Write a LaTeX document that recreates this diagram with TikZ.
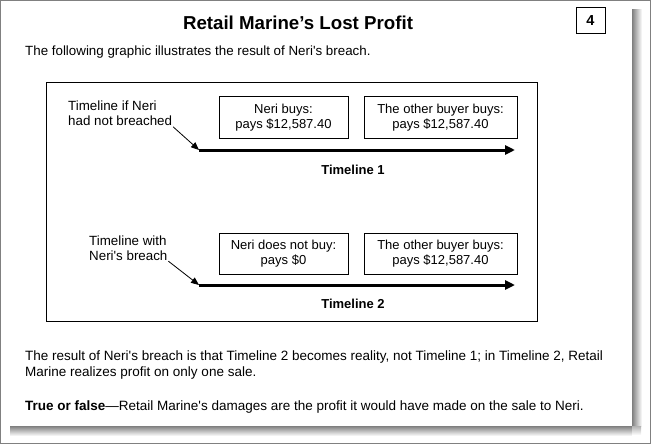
\documentclass[tikz,border=0pt]{standalone}
\usepackage{fontspec}
\setmainfont{Liberation Sans}[Ligatures=TeXOff]
\usetikzlibrary{arrows.meta}
\begin{document}
\begin{tikzpicture}[x=1pt,y=-1pt,
  txt/.style={font=\fontsize{13.35}{15}\selectfont, inner sep=0pt},
  ptxt/.style={font=\fontsize{13.5}{16}\selectfont, inner sep=0pt},
  btxt/.style={font=\fontsize{13}{15}\selectfont\bfseries, inner sep=0pt},
  box/.style={draw, line width=1pt, align=center, inner sep=0pt,
    font=\fontsize{13}{15}\selectfont, minimum height=41pt},
  tline/.style={line width=3pt, -{Triangle[length=10pt,width=9pt]}},
  leader/.style={line width=0.8pt, -{Triangle[length=8pt,width=6.5pt]}, shorten <=1pt}]
\useasboundingbox (0,0) rectangle (651,444);
% shadow of the page
\shade[left color=black!50, right color=white] (632,10) rectangle (642,426);
\shade[top color=black!50, bottom color=white] (10,426) rectangle (632,436);
\shade[top color=black!30, bottom color=white] (632,426) rectangle (641,435);
% page
\fill[white] (0,0) rectangle (632,426);
% outer border
\draw[black!50, line width=1pt] (0.5,0.5) rectangle (650.5,443.5);

% title and number
\node[font=\fontsize{18.7}{22}\selectfont\bfseries, inner sep=0pt] (title) at (298,23) {Retail Marine’s Lost Profit};
\node[draw, line width=1pt, minimum width=29pt, minimum height=26pt, inner sep=0pt,
  font=\fontsize{14.5}{16}\selectfont\bfseries] (num) at (590.5,20.5) {4};
\node[txt, anchor=west] (intro) at (25,52) {The following graphic illustrates the result of Neri's breach.};

% frame
\node[draw, line width=1pt, minimum width=491pt, minimum height=239pt, inner sep=0pt] (frame) at (292.4,202.4) {};

% timeline 1
\node[box, minimum width=129pt] (b1) at (283.5,117.5) {Neri buys:\\pays \$12,587.40};
\node[box, minimum width=153pt] (b2) at (440.5,117.5) {The other buyer buys:\\pays \$12,587.40};
\coordinate (t1s) at (199,150);
\coordinate (t1e) at (515,150);
\draw[tline] (t1s) -- (t1e);
\node[btxt] (tl1) at (353,170) {Timeline 1};
\node[txt, anchor=west, align=left] (lab1) at (68,113.5) {Timeline if Neri\\had not breached};
\draw[leader] (lab1.south east) -- (t1s);

% timeline 2
\node[box, minimum width=129pt] (b3) at (283.5,253.5) {Neri does not buy:\\pays \$0};
\node[box, minimum width=153pt] (b4) at (440.5,253.5) {The other buyer buys:\\pays \$12,587.40};
\coordinate (t2s) at (199,285);
\coordinate (t2e) at (515,285);
\draw[tline] (t2s) -- (t2e);
\node[btxt] (tl2) at (353,304) {Timeline 2};
\node[txt, anchor=west, align=left] (lab2) at (89,248) {Timeline with\\Neri's breach};
\draw[leader] (lab2.south east) -- (t2s);

% bottom text
\node[ptxt, anchor=west, align=left] (res) at (25,365.5) {The result of Neri's breach is that Timeline 2 becomes reality, not Timeline 1; in Timeline 2, Retail\\Marine realizes profit on only one sale.};
\node[ptxt, anchor=west] (tf) at (25,407) {\textbf{True or false}—Retail Marine's damages are the profit it would have made on the sale to Neri.};
\end{tikzpicture}
\end{document}
